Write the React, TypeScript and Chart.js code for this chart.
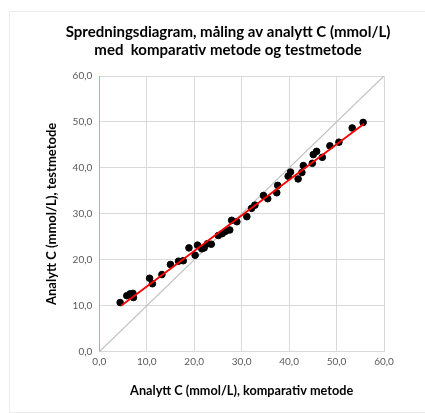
import React, { useEffect, useRef } from "react";
import { Chart, registerables } from "chart.js";

Chart.register(...registerables);

const titleLines = [
  "Spredningsdiagram, måling av analytt C (mmol/L)",
  "med  komparativ metode og testmetode",
];
const xAxisTitle = "Analytt C (mmol/L), komparativ metode";
const yAxisTitle = "Analytt C (mmol/L), testmetode";

const comparativeValues = [
  4.4, 5.8, 6.5, 7.1, 7.2, 10.6, 11.2, 13.2, 15.0, 16.7, 17.7, 18.9, 20.2, 20.7,
  21.6, 22.1, 22.8, 23.6, 25.1, 25.9, 26.6, 27.5, 27.9, 29.0, 31.1, 32.1, 32.8,
  34.6, 35.5, 37.4, 37.6, 39.8, 40.3, 41.9, 42.7, 43.0, 44.9, 45.1, 45.8, 47.0,
  48.6, 50.5, 53.3, 55.6,
];
const testValues = [
  10.7, 12.2, 12.6, 12.7, 11.8, 16.0, 14.8, 16.8, 19.0, 19.7, 19.8, 22.6, 21.0, 23.2,
  22.4, 22.6, 23.5, 23.4, 25.3, 25.7, 26.2, 26.5, 28.6, 28.3, 29.4, 31.2, 31.9,
  34.0, 33.3, 34.6, 36.2, 38.2, 39.1, 37.6, 39.0, 40.5, 41.0, 42.9, 43.6, 42.3,
  44.8, 45.6, 48.7, 49.9,
];
const regressionX = [4.6, 55.8];
const regressionY = [10.0, 49.6];
const identityX = [0, 60];
const identityY = [0, 60];

const fmt = (v: number) => v.toFixed(1).replace(".", ",");
const FONT = "Lato, 'Open Sans', sans-serif";

const titlePlugin = {
  id: "customTitle",
  afterDraw(chart: any) {
    const ctx = chart.ctx;
    ctx.save();
    ctx.fillStyle = "#000000";
    ctx.font = `bold 15px ${FONT}`;
    ctx.textAlign = "center";
    ctx.textBaseline = "alphabetic";
    ctx.fillText(titleLines[0], 228, 37);
    ctx.fillText(titleLines[1], 228, 55);
    ctx.restore();
  },
};

export default function App() {
  const ref = useRef<HTMLCanvasElement | null>(null);
  useEffect(() => {
    if (!ref.current) return;
    const chart = new Chart(ref.current, {
      type: "scatter",
      data: {
        datasets: [
          {
            label: "identitet",
            data: identityX.map((x, i) => ({ x, y: identityY[i] })),
            showLine: true,
            borderColor: "#bfbfbf",
            borderWidth: 1.2,
            pointRadius: 0,
            order: 3,
          },
          {
            label: "målinger",
            data: comparativeValues.map((x, i) => ({ x, y: testValues[i] })),
            backgroundColor: "#000000",
            borderColor: "#000000",
            pointRadius: 3.3,
            order: 2,
          },
          {
            label: "regresjon",
            data: regressionX.map((x, i) => ({ x, y: regressionY[i] })),
            showLine: true,
            borderColor: "#ff0000",
            borderWidth: 1.8,
            pointRadius: 0,
            order: 1,
          },
        ],
      },
      options: {
        animation: false,
        responsive: false,
        layout: { padding: { left: 44, right: 41, top: 76, bottom: 14 } },
        plugins: {
          legend: { display: false },
          tooltip: { enabled: false },
          title: { display: false },
        },
        scales: {
          x: {
            type: "linear",
            min: 0,
            max: 60,
            ticks: {
              stepSize: 10,
              callback: (v: any) => fmt(Number(v)),
              color: "#595959",
              font: { family: FONT, size: 10 },
              padding: 4,
            },
            grid: { color: "#d9d9d9", drawTicks: false },
            border: { color: "#d9d9d9" },
            title: {
              display: true,
              text: xAxisTitle,
              color: "#000000",
              font: { family: FONT, size: 12.7, weight: "bold" },
              padding: { top: 12, bottom: 0 },
            },
          },
          y: {
            type: "linear",
            min: 0,
            max: 60,
            ticks: {
              stepSize: 10,
              callback: (v: any) => fmt(Number(v)),
              color: "#595959",
              font: { family: FONT, size: 10 },
              padding: 7,
            },
            grid: { color: "#d9d9d9", drawTicks: false },
            border: { color: "#8fb8e0" },
            title: {
              display: true,
              text: yAxisTitle,
              color: "#000000",
              font: { family: FONT, size: 13, weight: "bold" },
              padding: { top: 0, bottom: 6 },
            },
          },
        },
      },
      plugins: [titlePlugin],
    });
    return () => chart.destroy();
  }, []);
  return (
    <div style={{ position: "absolute", left: 0, top: 0, width: 425, height: 413, background: "#fff" }}>
      <div
        style={{
          position: "absolute",
          left: 9,
          top: 11,
          width: 416,
          height: 400,
          borderLeft: "1px solid #ececec",
          borderTop: "1px solid #ececec",
          borderBottom: "1px solid #ececec",
        }}
      />
      <canvas ref={ref} width={425} height={413} style={{ position: "absolute", left: 0, top: 0 }} />
    </div>
  );
}
